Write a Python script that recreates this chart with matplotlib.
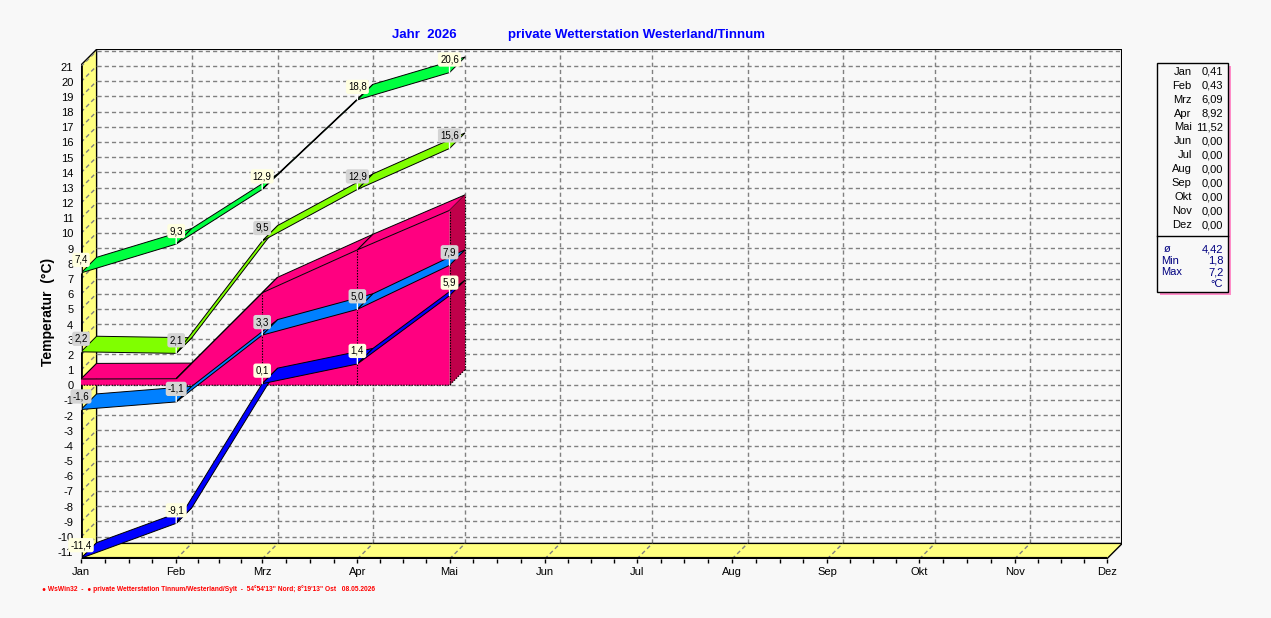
import matplotlib
matplotlib.use("Agg")
import matplotlib.pyplot as plt
from matplotlib.patches import Polygon, Rectangle

plt.rcParams['font.family'] = ['Liberation Sans', 'DejaVu Sans']
plt.rcParams['lines.scale_dashes'] = False

# ---------------- data ----------------
months = ["Jan", "Feb", "Mrz", "Apr", "Mai", "Jun", "Jul", "Aug", "Sep", "Okt", "Nov", "Dez"]
month_start_day = [0, 31, 59, 90, 120, 151, 181, 212, 243, 273, 304, 334]
abs_max = [7.4, 9.3, 12.9, 18.8, 20.6]
mean_max = [2.2, 2.1, 9.5, 12.9, 15.6]
mean_min = [-1.6, -1.1, 3.3, 5.0, 7.9]
abs_min = [-11.4, -9.1, 0.1, 1.4, 5.9]
monthly_mean = [0.41, 0.43, 6.09, 8.92, 11.52, 0, 0, 0, 0, 0, 0, 0]
year_mean = 4.42
year_min = 1.8
year_max = 7.2
y_ticks = list(range(-11, 22))
title_left = "Jahr  2026"
title_right = "private Wetterstation Westerland/Tinnum"
ylabel = "Temperatur  (°C)"
footer = ("\u25cf WsWin32  -  \u25cf private Wetterstation Tinnum/Westerland/Sylt  -  "
          "54°54'13\" Nord; 8°19'13\" Ost   08.05.2026")

# ---------------- layout ----------------
W, H = 1271, 618
BG = "#F8F8F8"
FL, FR, FB, FT = 81.0, 1106.7, 559.0, 65.0    # front plane in pixels (from top)
DEPTH = 15.6                                  # 3D depth offset in pixels
YMIN, YMAX = -11.45, 21.1
XMAX = month_start_day[-1]
DX = DEPTH * XMAX / (FR - FL)
DY = DEPTH * (YMAX - YMIN) / (FB - FT)
FS = 8

fig = plt.figure(figsize=(W / 100, H / 100), dpi=100, facecolor=BG)


def fx(px):
    return px / W


def fy(py):
    return 1 - py / H


ax = fig.add_axes([fx(FL), (H - FB) / H, (FR - FL + DEPTH) / W, (FB - FT + DEPTH) / H])
ax.set_xlim(0, XMAX + DX)
ax.set_ylim(YMIN, YMAX + DY)
ax.set_facecolor(BG)
for sp in ax.spines.values():
    sp.set_visible(False)

# ticks
ax.set_yticks(y_ticks)
ax.set_yticklabels([str(v) for v in y_ticks])
ax.tick_params(axis='y', length=0, pad=5.5, labelsize=FS)
ax.set_xticks(month_start_day)
ax.set_xticklabels(months)
minor = []
bounds = month_start_day + [365]
for i in range(len(month_start_day) - 1):
    s, e = bounds[i], bounds[i + 1]
    minor += [s + k * (e - s) / 4 for k in (1, 2, 3)]
ax.set_xticks(minor, minor=True)
ax.tick_params(axis='x', which='both', length=3, width=1, direction='out', pad=3, labelsize=FS)

GRID = dict(color="#808080", lw=1, ls=(0, (3, 2.2)), zorder=1)
# back plane grid
for v in y_ticks:
    ax.plot([DX, XMAX + DX], [v + DY, v + DY], **GRID)
for m in month_start_day[1:-1]:
    ax.plot([m + DX, m + DX], [YMIN + DY, YMAX + DY], **GRID)

# left wall and floor
YEL = "#FFFF80"
ax.add_patch(Polygon([(0, YMIN), (0, YMAX), (DX, YMAX + DY), (DX, YMIN + DY)],
                     closed=True, fc=YEL, ec='black', lw=1, zorder=2))
ax.add_patch(Polygon([(0, YMIN), (XMAX, YMIN), (XMAX + DX, YMIN + DY), (DX, YMIN + DY)],
                     closed=True, fc=YEL, ec='black', lw=1, zorder=2))
GRIDW = dict(GRID)
GRIDW['zorder'] = 3
for v in y_ticks:
    ax.plot([0, DX], [v, v + DY], **GRIDW)
for m in month_start_day[1:-1]:
    ax.plot([m, m + DX], [YMIN, YMIN + DY], **GRIDW)
# box edges
ax.plot([DX, XMAX + DX, XMAX + DX], [YMAX + DY, YMAX + DY, YMIN + DY], color='black', lw=1.5, zorder=3)
ax.plot([0, 0], [YMIN, YMAX], color='black', lw=2, zorder=4, solid_capstyle='butt')
ax.plot([0, XMAX], [YMIN, YMIN], color='black', lw=3, zorder=4, solid_capstyle='butt')

# ---------------- pink 3D area (monthly means) ----------------
n = len(abs_max)
xs = month_start_day[:n]
mm = monthly_mean[:n]
PINK = "#FF0080"
DARK = "#C0004A"
front = [(xs[0], 0)] + list(zip(xs, mm)) + [(xs[-1], 0)]
ax.add_patch(Polygon([(0, 0), (DX, DY), (DX, mm[0] + DY), (0, mm[0])], closed=True,
                     fc=PINK, ec='black', lw=0.7, zorder=5))
ax.add_patch(Polygon(front, closed=True, fc=PINK, ec='none', zorder=5))
for i in range(n - 1):
    ax.add_patch(Polygon([(xs[i], mm[i]), (xs[i + 1], mm[i + 1]),
                          (xs[i + 1] + DX, mm[i + 1] + DY), (xs[i] + DX, mm[i] + DY)],
                         closed=True, fc=PINK, ec='black', lw=0.7, zorder=5))
ax.add_patch(Polygon([(xs[-1], 0), (xs[-1], mm[-1]), (xs[-1] + DX, mm[-1] + DY), (xs[-1] + DX, DY)],
                     closed=True, fc=DARK, ec='none', zorder=5))
DOT = dict(color='black', lw=0.8, ls=(0, (1, 1)), zorder=6)
for i in range(2, n):
    ax.plot([xs[i], xs[i]], [0, mm[i]], **DOT)
ax.plot([xs[-1] + DX, xs[-1] + DX], [DY, mm[-1] + DY], **DOT)
ax.plot([0, xs[-1], xs[-1] + DX], [0, 0, DY], **DOT)

# ---------------- ribbons ----------------


def ribbon(vals, color, z):
    for i in range(len(vals) - 1):
        ax.add_patch(Polygon([(xs[i], vals[i]), (xs[i + 1], vals[i + 1]),
                              (xs[i + 1] + DX, vals[i + 1] + DY), (xs[i] + DX, vals[i] + DY)],
                             closed=True, fc=color, ec='black', lw=0.7, zorder=z))


ribbon(abs_max, "#00FF40", 7)
ribbon(mean_max, "#80FF00", 7)
ribbon(mean_min, "#0080FF", 7)
ribbon(abs_min, "#0000FF", 7)


def labels(vals, fc):
    for x, v in zip(xs, vals):
        ax.annotate(f"{v:.1f}".replace('.', ','), xy=(x, v), xytext=(0, 9.4),
                    textcoords='offset points', ha='center', va='center', fontsize=7,
                    bbox=dict(boxstyle='round,pad=0.22,rounding_size=0.25', fc=fc, ec='none'),
                    arrowprops=dict(arrowstyle='-', color='white', lw=1, shrinkA=0, shrinkB=0),
                    zorder=20, annotation_clip=False)


labels(abs_max, "#FFFFE0")
labels(mean_max, "#D4D4D4")
labels(mean_min, "#D4D4D4")
labels(abs_min, "#FFFFE0")

# ---------------- texts ----------------
fig.text(fx(391.7), fy(35), title_left, color='#0000FF', fontsize=9.5, fontweight='bold', va='center', ha='left')
fig.text(fx(508.3), fy(35), title_right, color='#0000FF', fontsize=9.5, fontweight='bold', va='center', ha='left')
fig.text(fx(48), fy(311.5), ylabel, rotation=90, fontsize=10, fontweight='bold', va='center', ha='center')
fig.text(fx(42), fy(589), footer, color='#FF0000', fontsize=4.75, fontweight='bold', va='center', ha='left')

# ---------------- legend box ----------------
LL, LR, LT, LB, LS = 1157.3, 1227.7, 62.7, 292.3, 236.0
fig.add_artist(Rectangle((fx(LL + 3), fy(LB + 3)), (LR - LL) / W, (LB - LT) / H,
                         transform=fig.transFigure, fc='#FF8CC8', ec='none'))
fig.add_artist(Rectangle((fx(LL), fy(LB)), (LR - LL) / W, (LB - LT) / H,
                         transform=fig.transFigure, fc=BG, ec='black', lw=1))
fig.add_artist(plt.Line2D([fx(LL), fx(LR)], [fy(LS), fy(LS)], transform=fig.transFigure, color='black', lw=1))
for i, (mname, val) in enumerate(zip(months, monthly_mean)):
    yy = 71.7 + 13.94 * i
    fig.text(fx(1191.7), fy(yy), mname, ha='right', va='center', fontsize=FS)
    fig.text(fx(1223.3), fy(yy), f"{val:.2f}".replace('.', ','), ha='right', va='center', fontsize=FS)
NAVY = '#000080'
fig.text(fx(1167.5), fy(249), "ø", ha='center', va='center', fontsize=FS, color=NAVY)
fig.text(fx(1223.3), fy(249), f"{year_mean:.2f}".replace('.', ','), ha='right', va='center', fontsize=FS, color=NAVY)
fig.text(fx(1160.7), fy(260.7), "Min", ha='left', va='center', fontsize=FS, color=NAVY)
fig.text(fx(1223.3), fy(260.7), f"{year_min:.1f}".replace('.', ','), ha='right', va='center', fontsize=FS, color=NAVY)
fig.text(fx(1160.7), fy(272.3), "Max", ha='left', va='center', fontsize=FS, color=NAVY)
fig.text(fx(1223.3), fy(272.3), f"{year_max:.1f}".replace('.', ','), ha='right', va='center', fontsize=FS, color=NAVY)
fig.text(fx(1223.3), fy(284), "°C", ha='right', va='center', fontsize=FS, color=NAVY)

fig.savefig("out.png", dpi=100, facecolor=BG)
